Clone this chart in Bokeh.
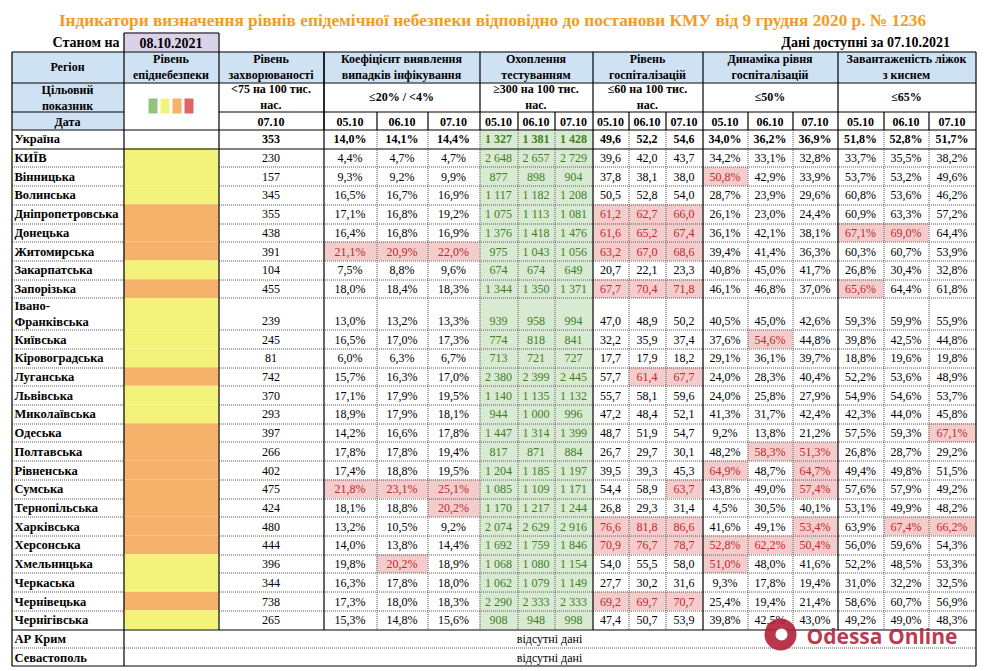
from bokeh.plotting import figure
from bokeh.models import Range1d, ColumnDataSource
from bokeh.embed import file_html
from bokeh.resources import INLINE

# ---------------- data ----------------
title = "Індикатори визначення рівнів епідемічної небезпеки відповідно до постанови КМУ від 9 грудня 2020 р. № 1236"
as_of_label = "Станом на"
as_of = "08.10.2021"
data_label = "Дані доступні за  07.10.2021"
dates = ["05.10", "06.10", "07.10"]
incidence_date = "07.10"

group_titles = ["Рівень\nепіднебезпеки", "Рівень\nзахворюваності", "Коефіцієнт виявлення\nвипадків інфікування",
                "Охоплення\nтестуванням", "Рівень\nгоспіталізацій", "Динаміка рівня\nгоспіталізацій",
                "Завантаженість ліжок\nз киснем"]
group_targets = ["", "<75 на 100 тис.\nнас.", "≤20% / <4%", "≥300 на 100 тис.\nнас.", "≤60 на 100 тис.\nнас.",
                 "≤50%", "≤65%"]
row_labels = ["Регіон", "Цільовий\nпоказник", "Дата"]

regions = ["Україна", "КИЇВ", "Вінницька", "Волинська", "Дніпропетровська", "Донецька", "Житомирська",
           "Закарпатська", "Запорізька", "Івано-\nФранківська", "Київська", "Кіровоградська", "Луганська",
           "Львівська", "Миколаївська", "Одеська", "Полтавська", "Рівненська", "Сумська", "Тернопільська",
           "Харківська", "Херсонська", "Хмельницька", "Черкаська", "Чернівецька", "Чернігівська"]
levels = ["", "жовтий", "жовтий", "жовтий", "помаранчевий", "помаранчевий", "помаранчевий", "жовтий",
          "помаранчевий", "жовтий", "жовтий", "жовтий", "помаранчевий", "жовтий", "жовтий", "помаранчевий",
          "помаранчевий", "помаранчевий", "помаранчевий", "помаранчевий", "помаранчевий", "помаранчевий",
          "жовтий", "жовтий", "помаранчевий", "жовтий"]
incidence = [353, 230, 157, 345, 355, 438, 391, 104, 455, 239, 245, 81, 742, 370, 293, 397, 266, 402, 475, 424,
             480, 444, 396, 344, 738, 265]

coef_0510 = [14.0, 4.4, 9.3, 16.5, 17.1, 16.4, 21.1, 7.5, 18.0, 13.0, 16.5, 6.0, 15.7, 17.1, 18.9, 14.2, 17.8,
             17.4, 21.8, 18.1, 13.2, 14.0, 19.8, 16.3, 17.3, 15.3]
coef_0610 = [14.1, 4.7, 9.2, 16.7, 16.8, 16.8, 20.9, 8.8, 18.4, 13.2, 17.0, 6.3, 16.3, 17.9, 17.9, 16.6, 17.8,
             18.8, 23.1, 18.8, 10.5, 13.8, 20.2, 17.8, 18.0, 14.8]
coef_0710 = [14.4, 4.7, 9.9, 16.9, 19.2, 16.9, 22.0, 9.6, 18.3, 13.3, 17.3, 6.7, 17.0, 19.5, 18.1, 17.8, 19.4,
             19.5, 25.1, 20.2, 9.2, 14.4, 18.9, 18.0, 18.3, 15.6]

test_0510 = [1327, 2648, 877, 1117, 1075, 1376, 975, 674, 1344, 939, 774, 713, 2380, 1140, 944, 1447, 817, 1204,
             1085, 1170, 2074, 1692, 1068, 1062, 2290, 908]
test_0610 = [1381, 2657, 898, 1182, 1113, 1418, 1043, 674, 1350, 958, 818, 721, 2399, 1135, 1000, 1314, 871, 1185,
             1109, 1217, 2629, 1759, 1080, 1079, 2333, 948]
test_0710 = [1428, 2729, 904, 1208, 1081, 1476, 1056, 649, 1371, 994, 841, 727, 2445, 1132, 996, 1399, 884, 1197,
             1171, 1244, 2916, 1846, 1154, 1149, 2333, 998]

hosp_0510 = [49.6, 39.6, 37.8, 50.5, 61.2, 61.6, 63.2, 20.7, 67.7, 47.0, 32.2, 17.7, 57.7, 55.7, 47.2, 48.7, 26.7,
             39.5, 54.4, 26.8, 76.6, 70.9, 54.0, 27.7, 69.2, 47.4]
hosp_0610 = [52.2, 42.0, 38.1, 52.8, 62.7, 65.2, 67.0, 22.1, 70.4, 48.9, 35.9, 17.9, 61.4, 58.1, 48.4, 51.9, 29.7,
             39.3, 58.9, 29.3, 81.8, 76.7, 55.5, 30.2, 69.7, 50.7]
hosp_0710 = [54.6, 43.7, 38.0, 54.0, 66.0, 67.4, 68.6, 23.3, 71.8, 50.2, 37.4, 18.2, 67.7, 59.6, 52.1, 54.7, 30.1,
             45.3, 63.7, 31.4, 86.6, 78.7, 58.0, 31.6, 70.7, 53.9]

dyn_0510 = [34.0, 34.2, 50.8, 28.7, 26.1, 36.1, 39.4, 40.8, 46.1, 40.5, 37.6, 29.1, 24.0, 24.0, 41.3, 9.2, 48.2,
            64.9, 43.8, 4.5, 41.6, 52.8, 51.0, 9.3, 25.4, 39.8]
dyn_0610 = [36.2, 33.1, 42.9, 23.9, 23.0, 42.1, 41.4, 45.0, 46.8, 45.0, 54.6, 36.1, 28.3, 25.8, 31.7, 13.8, 58.3,
            48.7, 49.0, 30.5, 49.1, 62.2, 48.0, 17.8, 19.4, 42.5]
dyn_0710 = [36.9, 32.8, 33.9, 29.6, 24.4, 38.1, 36.3, 41.7, 37.0, 42.6, 44.8, 39.7, 40.4, 27.9, 42.4, 21.2, 51.3,
            64.7, 57.4, 40.1, 53.4, 50.4, 41.6, 19.4, 21.4, 43.0]

beds_0510 = [51.8, 33.7, 53.7, 60.8, 60.9, 67.1, 60.3, 26.8, 65.6, 59.3, 39.8, 18.8, 52.2, 54.9, 42.3, 57.5, 26.8,
             49.4, 57.6, 53.1, 63.9, 56.0, 52.2, 31.0, 58.6, 49.2]
beds_0610 = [52.8, 35.5, 53.2, 53.6, 63.3, 69.0, 60.7, 30.4, 64.4, 59.9, 42.5, 19.6, 53.6, 54.6, 44.0, 59.3, 28.7,
             49.8, 57.9, 49.9, 67.4, 59.6, 48.5, 32.2, 60.7, 49.0]
beds_0710 = [51.7, 38.2, 49.6, 46.2, 57.2, 64.4, 53.9, 32.8, 61.8, 55.9, 44.8, 19.8, 48.9, 53.7, 45.8, 67.1, 29.2,
             51.5, 49.2, 48.2, 66.2, 54.3, 53.3, 32.5, 56.9, 48.3]

coef_limit = 20
hosp_limit = 60
dyn_limit = 50
beds_limit = 65

missing_regions = ["АР Крим", "Севастополь"]
missing_text = "відсутні дані"
watermark = "Odessa Online"

# ---------------- styles / layout ----------------
FONT = "Liberation Serif"
HDR_BLUE = "#cfe2f3"
GREEN_BG = "#d9ead3"
GREEN_TX = "#3f7f24"
RED_BG = "#f4cccc"
RED_TX = "#c0282d"
LEVEL_COL = {"жовтий": "#f3f37b", "помаранчевий": "#f6b26b", "": "white"}
LEGEND_COLS = ["#93c47d", "#f3f37b", "#f6b26b", "#e06666"]
TITLE_COL = "#f39c1f"

W, H = 984, 671
X0, Y0 = 0, 0
c_region = (11, 123)
c_level = (123, 218)
c_inc = (218, 323)
grp_bounds = [
    [323, 376, 427, 479],
    [479, 517, 554, 592],
    [592, 628, 665, 702],
    [702, 747, 792, 837],
    [837, 883, 928, 975],
]
XR = 975
y_tab_top, y_h1, y_h2, y_h3 = 51, 82, 111, 129
y_bottom = 666
n_units = len(regions) + len(missing_regions) + 0.7
RH = (y_bottom - y_h3) / n_units

p = figure(width=W, height=H, x_range=Range1d(X0, X0 + W), y_range=Range1d(Y0 + H, Y0),
           output_backend="svg", toolbar_location=None, x_axis_type=None, y_axis_type=None,
           min_border=0, outline_line_color=None, background_fill_color="white")
p.grid.visible = False

T = dict(x=[], y=[], text=[], color=[], style=[], align=[], size=[], font=[], alpha=[])


def add_text(x, y, s, color="black", style="normal", align="center", size="12px", font=FONT, alpha=1.0):
    T["x"].append(x); T["y"].append(y); T["text"].append(s); T["color"].append(color)
    T["style"].append(style); T["align"].append(align); T["size"].append(size); T["font"].append(font)
    T["alpha"].append(alpha)


Q = dict(left=[], right=[], top=[], bottom=[], color=[])


def add_quad(l, r, t, b, c):
    Q["left"].append(l); Q["right"].append(r); Q["top"].append(t); Q["bottom"].append(b); Q["color"].append(c)


SOL = dict(x0=[], y0=[], x1=[], y1=[])
DOT = dict(x0=[], y0=[], x1=[], y1=[])


def seg(d, x0, y0, x1, y1):
    d["x0"].append(x0 + 0.5); d["y0"].append(y0 + 0.5); d["x1"].append(x1 + 0.5); d["y1"].append(y1 + 0.5)


def fmt_pct(v):
    return f"{v:.1f}".replace(".", ",") + "%"


def fmt_dec(v):
    return f"{v:.1f}".replace(".", ",")


def fmt_int(v):
    return f"{v:,}".replace(",", " ")


# ---------- title area ----------
add_text(492, 20, title, color=TITLE_COL, style="bold", size="17.3px")
add_text(119, 42, as_of_label, style="bold", size="14px", align="right")
add_quad(c_level[0], c_level[1], 32, 51, "#d9d2e9")
seg(SOL, c_level[0], 32, c_level[1], 32)
seg(SOL, c_level[0], 32, c_level[0], 51)
seg(SOL, c_level[1], 32, c_level[1], 51)
add_text((c_level[0] + c_level[1]) / 2, 42, as_of, style="bold", size="14px")
add_text(953, 42, data_label, style="bold", size="14px", align="right")

# ---------- header ----------
add_quad(c_region[0], XR, y_tab_top, y_h1, HDR_BLUE)
add_quad(c_region[0], c_region[1], y_h1, y_h3, HDR_BLUE)
mid1 = (y_tab_top + y_h1) / 2
mid2 = (y_h1 + y_h2) / 2
mid3 = (y_h2 + y_h3) / 2
cx_reg = (c_region[0] + c_region[1]) / 2
add_text(cx_reg, mid1, row_labels[0], style="bold")
add_text(cx_reg, mid2 + 1, row_labels[1], style="bold")
add_text(cx_reg, mid3 + 1.5, row_labels[2], style="bold")

col_spans = [c_level, c_inc] + [(g[0], g[3]) for g in grp_bounds]
for (a, b), gt, tg in zip(col_spans, group_titles, group_targets):
    add_text((a + b) / 2, mid1, gt, style="bold")
    if tg:
        add_text((a + b) / 2, mid2, tg, style="bold")
add_text((c_inc[0] + c_inc[1]) / 2, mid3 + 1, incidence_date, style="bold")
for g in grp_bounds:
    for k in range(3):
        add_text((g[k] + g[k + 1]) / 2, mid3 + 1, dates[k], style="bold")

# legend squares in level column
sq_w, sq_gap = 9, 3
tot = len(LEGEND_COLS) * sq_w + (len(LEGEND_COLS) - 1) * sq_gap
sx = (c_level[0] + c_level[1]) / 2 - tot / 2
for i, c in enumerate(LEGEND_COLS):
    add_quad(sx + i * (sq_w + sq_gap), sx + i * (sq_w + sq_gap) + sq_w, 98, 113, c)

# header lines
seg(SOL, c_region[0], y_tab_top, XR, y_tab_top)
seg(SOL, c_region[0], y_h1, XR, y_h1)
seg(SOL, c_region[0], y_h2, c_region[1], y_h2)
seg(SOL, c_level[1], y_h2, XR, y_h2)
seg(SOL, c_region[0], y_h3, XR, y_h3)
major_x = [c_region[0], c_region[1], c_level[1], c_inc[1]] + [g[0] for g in grp_bounds] + [XR]
for x in major_x:
    seg(SOL, x, y_tab_top, x, y_h3)
for g in grp_bounds:
    for x in g[1:3]:
        seg(SOL, x, y_h2, x, y_h3)

# ---------- data rows ----------
groups = [
    ([coef_0510, coef_0610, coef_0710], fmt_pct, coef_limit, None),
    ([test_0510, test_0610, test_0710], fmt_int, None, "green"),
    ([hosp_0510, hosp_0610, hosp_0710], fmt_dec, hosp_limit, None),
    ([dyn_0510, dyn_0610, dyn_0710], fmt_pct, dyn_limit, None),
    ([beds_0510, beds_0610, beds_0710], fmt_pct, beds_limit, None),
]

y = y_h3
row_tops = []
for i, reg in enumerate(regions):
    h = RH * (1.7 if "\n" in reg else 1.0)
    top, bot = y, y + h
    row_tops.append(top)
    ty = (top + bot) / 2 if h == RH else bot - RH / 2
    style = "bold" if i == 0 else "normal"
    add_text(14, (top + bot) / 2 + 0.5, reg, style="bold", size="12.5px", align="left")
    add_quad(c_level[0], c_level[1], top, bot, LEVEL_COL[levels[i]])
    add_text((c_inc[0] + c_inc[1]) / 2, ty + 0.5, fmt_int(incidence[i]), style=style)
    for g, (series, fmt, lim, kind) in zip(grp_bounds, groups):
        for k in range(3):
            v = series[k][i]
            col = "black"
            if kind == "green":
                add_quad(g[k], g[k + 1], top, bot, GREEN_BG)
                col = GREEN_TX
            elif lim is not None and v > lim:
                add_quad(g[k], g[k + 1], top, bot, RED_BG)
                col = RED_TX
            add_text((g[k] + g[k + 1]) / 2, ty + 0.5, fmt(v), color=col, style=style)
    y = bot
y_data_end = y
for i in range(1, len(regions)):
    yy = round(row_tops[i])
    if i == 1:
        seg(SOL, c_region[0], yy, XR, yy)
    else:
        seg(DOT, c_region[0], yy, c_level[0], yy)
        seg(DOT, c_level[1], yy, XR, yy)
seg(SOL, c_region[0], round(y_data_end), XR, round(y_data_end))
for x in [c_region[0], c_region[1], c_level[1], c_inc[1], grp_bounds[1][3], grp_bounds[2][3], grp_bounds[3][3], XR]:
    seg(SOL, x, y_h3, x, round(y_data_end))
for g in grp_bounds:
    for x in g[1:3]:
        seg(DOT, x, y_h3, x, round(y_data_end))
seg(DOT, grp_bounds[0][3], y_h3, grp_bounds[0][3], round(y_data_end))

# missing regions
for j, reg in enumerate(missing_regions):
    top = y_data_end + j * RH
    bot = top + RH
    add_text(14, (top + bot) / 2 + 0.5, reg, style="bold", size="12.5px", align="left")
    add_text((c_region[1] + XR) / 2, (top + bot) / 2 + 0.5, missing_text)
    if j > 0:
        seg(DOT, c_region[0], round(top), XR, round(top))
y_end = round(y_data_end + len(missing_regions) * RH) - 1
seg(SOL, c_region[0], y_end, XR, y_end)
for x in [c_region[0], c_region[1], XR]:
    seg(SOL, x, round(y_data_end), x, y_end)

# ---------- draw ----------
p.quad(source=ColumnDataSource(Q), left="left", right="right", top="top", bottom="bottom",
       fill_color="color", line_color=None)
p.segment(source=ColumnDataSource(DOT), x0="x0", y0="y0", x1="x1", y1="y1", line_color="#555555",
          line_width=1, line_dash="1 1")
p.segment(source=ColumnDataSource(SOL), x0="x0", y0="y0", x1="x1", y1="y1", line_color="black", line_width=1.2)
p.text(source=ColumnDataSource(T), x="x", y="y", text="text", text_color="color", text_font_style="style",
       text_align="align", text_font_size="size", text_font="font", text_alpha="alpha", text_baseline="middle",
       text_line_height=1.15)

# watermark on top
p.circle(x=[780], y=[634], radius=16, fill_color="#b3203a", line_color=None, fill_alpha=0.9)
p.circle(x=[781], y=[634], radius=6, fill_color="white", line_color=None)
p.text(x=[806], y=[635], text=[watermark], text_color="#b3203a", text_font_style="bold",
       text_font_size="21px", text_align="left", text_baseline="middle", text_alpha=0.9,
       text_font={"value": "Open Sans"})

open("out.html", "w").write(file_html(p, INLINE))
